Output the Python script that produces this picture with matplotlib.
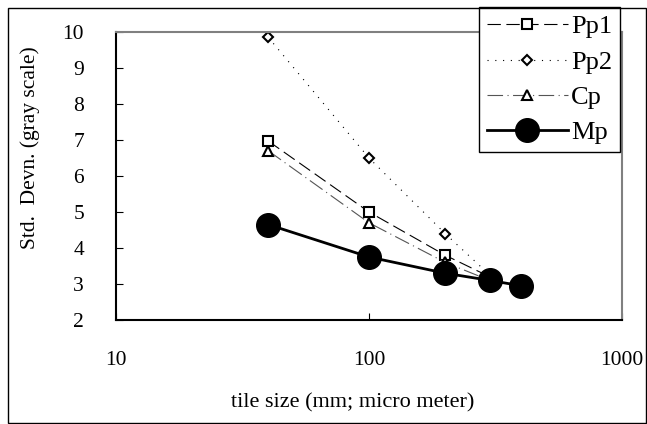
import numpy as np
import matplotlib.pyplot as plt
from matplotlib.patches import Rectangle

plt.rcParams['font.family'] = ['Liberation Serif', 'DejaVu Serif']

# tile sizes and std deviations
tile = [40, 100, 200, 300]
tile_mp = [40, 100, 200, 300, 400]
pp1 = [6.97, 5.0, 3.8, 3.2]
pp2 = [9.85, 6.5, 4.4, 3.25]
cp = [6.7, 4.7, 3.6, 3.1]
mp = [4.65, 3.75, 3.3, 3.1, 2.95]

fig = plt.figure(figsize=(6.47, 4.24), dpi=100)
ax = fig.add_axes([116/647, 1 - 320/424, (622-116)/647, (320-32)/424])

ax.plot(tile, pp1, color='black', lw=0.8, dashes=(12, 5),
        marker='s', ms=7, mfc='white', mec='black', mew=1.5, label='Pp1')
ax.plot(tile, pp2, color='black', lw=0.8, dashes=(1, 6),
        marker='D', ms=5, mfc='white', mec='black', mew=1.5, label='Pp2')
ax.plot(tile, cp, color='#555555', lw=0.8, dashes=(14, 4, 1, 4),
        marker='^', ms=7, mfc='white', mec='black', mew=1.5, label='Cp')
ax.plot(tile_mp, mp, color='black', lw=2,
        marker='o', ms=17, mfc='black', mec='black', label='Mp')

ax.set_xscale('log')
ax.set_xlim(10, 1000)
ax.set_ylim(2, 10)
ax.set_yticks(range(2, 11))
ax.set_xticks([10, 100, 1000])
ax.set_xticklabels(['10', '100', '1000'])
ax.xaxis.set_minor_locator(plt.NullLocator())
ax.tick_params(axis='both', direction='in', labelsize=15.5, length=5, color='black')
ax.tick_params(axis='x', pad=22)
ax.tick_params(axis='y', pad=23)
for s in ['left', 'bottom']:
    ax.spines[s].set_color('black')
    ax.spines[s].set_linewidth(1.5)
for s in ['top', 'right']:
    ax.spines[s].set_color('#808080')
    ax.spines[s].set_linewidth(1.5)

ax.set_xlabel('tile size (mm; micro meter)', fontsize=16, va='center')
ax.xaxis.set_label_coords(0.468, -0.288)
ax.set_ylabel('Std.  Devn. (gray scale)', fontsize=15.5, va='center')
ax.yaxis.set_label_coords(-0.170, 0.597)

leg = ax.legend(loc='upper right', bbox_to_anchor=(620/647, 1 - 7/424),
                bbox_transform=fig.transFigure, fontsize=19, frameon=True,
                fancybox=False, edgecolor='black', framealpha=1,
                handlelength=3.1, handletextpad=0.1, borderpad=0.3,
                labelspacing=0.45, borderaxespad=0)
leg.get_frame().set_linewidth(1)

fig.patches.append(Rectangle((8/647, 1/424), 638/647, 415/424,
                             transform=fig.transFigure, fill=False,
                             edgecolor='black', lw=1))

fig.savefig('out.png', dpi=100)
